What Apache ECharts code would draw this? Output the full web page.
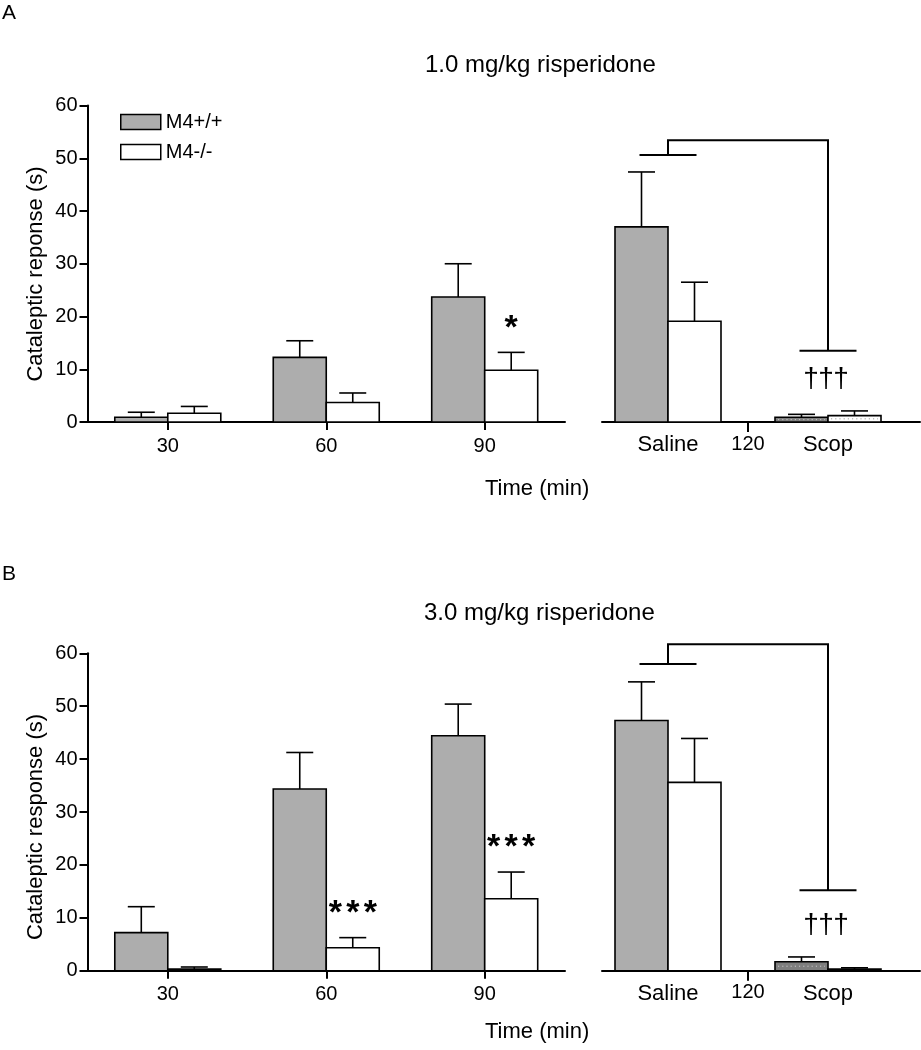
<!DOCTYPE html>
<html><head><meta charset="utf-8">
<script src="https://cdn.jsdelivr.net/npm/echarts@6/dist/echarts.min.js"></script>
<style>html,body{margin:0;padding:0;background:#fff}#c{width:921px;height:1050px}</style>
</head><body><div id="c"></div>
<script>
// ---------- data ----------
const timePoints = [30, 60, 90];
const treatments = ['Saline', 'Scop'];
const treatmentTimeLabel = '120';
const seriesNames = ['M4+/+', 'M4-/-'];
const yTicksMax = 60;
const yTitles = ['Cataleptic reponse (s)', 'Cataleptic response (s)'];

// Panel A (1.0 mg/kg risperidone)
const wtA = [0.9, 12.25, 23.7];
const wtA_sem = [0.95, 3.15, 6.3];
const koA = [1.65, 3.7, 9.8];
const koA_sem = [1.3, 1.8, 3.4];
const wtA_tx = [37.0, 0.9];
const wtA_tx_sem = [10.4, 0.55];
const koA_tx = [19.1, 1.2];
const koA_tx_sem = [7.4, 0.9];
const sigA = ['', '', '*'];
const bracketA = [50.6, 53.4, 13.5];   // saline cap, top, scop cap

// Panel B (3.0 mg/kg risperidone)
const wtB = [7.2, 34.35, 44.4];
const wtB_sem = [4.9, 6.9, 6.0];
const koB = [0.3, 4.35, 13.6];
const koB_sem = [0.4, 1.9, 5.05];
const wtB_tx = [47.3, 1.7];
const wtB_tx_sem = [7.3, 0.9];
const koB_tx = [35.6, 0.3];
const koB_tx_sem = [8.3, 0.25];
const sigB = ['', '***', '***'];
const bracketB = [58.0, 61.7, 15.2];

const daggerLabel = '†††';

// ---------- style ----------
const FONT = 'Liberation Sans, Arial, Helvetica, sans-serif';
const BAR_W = 53, CAP_W = 27, CAP_BR = 28.5;
const GRAY = '#adadad', SCOP_GRAY = '#7e7e7e';
const txPos = treatments.map((t, i) => i * 2);

function barSeries(name, xi, side, xs, vals, sems, fill, scopIdx) {
  return {
    type: 'custom', name: name, xAxisIndex: xi, yAxisIndex: xi, clip: false, z: 3,
    itemStyle: { color: fill, borderColor: '#000', borderWidth: 1.5 },
    data: xs.map((x, i) => [x, vals[i], sems[i]]),
    renderItem: function (params, api) {
      const x = api.value(0), v = api.value(1), s = api.value(2);
      const base = api.coord([x, 0]), top = api.coord([x, v]), et = api.coord([x, v + s]);
      const x0 = side < 0 ? base[0] - BAR_W : base[0];
      const cx = x0 + BAR_W / 2;
      const isScop = params.dataIndex === scopIdx;
      const f = isScop && side < 0 ? SCOP_GRAY : fill;
      const ch = [
        { type: 'line', shape: { x1: cx, y1: top[1], x2: cx, y2: et[1] }, style: { stroke: '#000', lineWidth: 1.6 } },
        { type: 'line', shape: { x1: cx - CAP_W / 2, y1: et[1], x2: cx + CAP_W / 2, y2: et[1] }, style: { stroke: '#000', lineWidth: 1.6 } },
        { type: 'rect', shape: { x: x0, y: top[1], width: BAR_W, height: base[1] - top[1] }, style: { fill: f, stroke: '#000', lineWidth: 1.6 } }
      ];
      if (isScop && base[1] - top[1] > 3.5) {
        const my = (top[1] + base[1]) / 2;
        ch.push({ type: 'line', shape: { x1: x0 + 3, y1: my, x2: x0 + BAR_W - 3, y2: my },
          style: { stroke: side < 0 ? '#c8c8c8' : '#999', lineWidth: 1, lineDash: [1.2, 3] } });
      }
      return { type: 'group', children: ch };
    }
  };
}

function sigSeries(xi, xs, vals, sems, labels) {
  return {
    type: 'custom', name: 'sig' + xi, xAxisIndex: xi, yAxisIndex: xi, clip: false, z: 5,
    data: xs.map((x, i) => [x, vals[i] + sems[i]]),
    renderItem: function (params, api) {
      const lab = labels[params.dataIndex];
      if (!lab) return null;
      const p = api.coord([api.value(0), api.value(1)]);
      const cx = p[0] + BAR_W / 2, n = lab.length, pitch = 17.5;
      const ch = [];
      for (let k = 0; k < n; k++) {
        ch.push({ type: 'text', x: cx + (k - (n - 1) / 2) * pitch, y: p[1] - 24,
          style: { text: lab[k], fill: '#000', fontSize: 34, fontWeight: 'bold', fontFamily: FONT, align: 'center', verticalAlign: 'middle' } });
      }
      return { type: 'group', children: ch };
    }
  };
}

function bracketSeries(xi, levels, wt, wtS, ko, koS) {
  return {
    type: 'custom', name: 'br' + xi, xAxisIndex: xi, yAxisIndex: xi, clip: false, z: 5,
    data: [[txPos[0], txPos[1]]],
    renderItem: function (params, api) {
      const xa = api.value(0), xb = api.value(1);
      const pL = api.coord([xa, levels[0]]), pT = api.coord([xa, levels[1]]), pR = api.coord([xb, levels[2]]);
      const pTR = api.coord([xb, levels[1]]);
      const errTop = Math.max(wt[1] + wtS[1], ko[1] + koS[1]);
      const pd = api.coord([xb, errTop]);
      const st = { stroke: '#000', lineWidth: 2, fill: null };
      const ch = [
        { type: 'line', shape: { x1: pL[0] - CAP_BR, y1: pL[1], x2: pL[0] + CAP_BR, y2: pL[1] }, style: st },
        { type: 'polyline', shape: { points: [[pL[0], pL[1]], [pT[0], pT[1]], [pTR[0], pTR[1]], [pR[0], pR[1]]] }, style: st },
        { type: 'line', shape: { x1: pR[0] - CAP_BR, y1: pR[1], x2: pR[0] + CAP_BR, y2: pR[1] }, style: st }
      ];
      const chars = Array.from(daggerLabel);
      chars.forEach((c, k) => {
        ch.push({ type: 'text', x: pd[0] - 2 + (k - (chars.length - 1) / 2) * 15, y: pd[1] - 32,
          style: { text: c, fill: '#000', fontSize: 28, fontFamily: FONT, align: 'center', verticalAlign: 'middle' } });
      });
      return { type: 'group', children: ch };
    }
  };
}

const lineSt = { color: '#000', width: 2 };
function leftX(g) {
  return { gridIndex: g, type: 'value', min: 14.8, max: 105.2,
    axisLine: { show: true, onZero: false, lineStyle: lineSt },
    axisTick: { show: true, customValues: timePoints, length: 8, lineStyle: lineSt },
    axisLabel: { customValues: timePoints, margin: 14, fontSize: 20, color: '#000', fontFamily: FONT },
    splitLine: { show: false } };
}
function rightX(g) {
  return { gridIndex: g, type: 'value', min: -0.825, max: 3.15,
    axisLine: { show: true, onZero: false, lineStyle: lineSt },
    axisTick: { show: true, customValues: [1], length: 10, lineStyle: lineSt },
    axisLabel: { customValues: [0, 1, 2], margin: 12, fontSize: 20, color: '#000', fontFamily: FONT,
      formatter: function (v) { return v === 1 ? treatmentTimeLabel : '{t|' + treatments[Math.round(v / 2)] + '}'; },
      rich: { t: { fontSize: 22, color: '#000', fontFamily: FONT } } },
    splitLine: { show: false } };
}
function leftY(g) {
  return { gridIndex: g, type: 'value', min: 0, max: yTicksMax, interval: 10,
    axisLine: { show: true, lineStyle: lineSt },
    axisTick: { show: true, length: 8, lineStyle: lineSt },
    axisLabel: { margin: 10, fontSize: 20, color: '#000', fontFamily: FONT },
    splitLine: { show: false } };
}
function rightY(g) {
  return { gridIndex: g, type: 'value', min: 0, max: yTicksMax, show: false };
}
function txt(t, x, y, size, extra) {
  return Object.assign({ type: 'text', x: x, y: y,
    style: { text: t, fontSize: size, fill: '#000', fontFamily: FONT, verticalAlign: 'middle' } }, extra || {});
}

const option = {
  backgroundColor: '#fff',
  animation: false,
  grid: [
    { left: 87.5, top: 105.5, width: 477.5, height: 316.5 },
    { left: 602, top: 105.5, width: 318, height: 316.5 },
    { left: 87.5, top: 653.3, width: 477.5, height: 317.4 },
    { left: 602, top: 653.3, width: 318, height: 317.4 }
  ],
  xAxis: [leftX(0), rightX(1), leftX(2), rightX(3)],
  yAxis: [leftY(0), rightY(1), leftY(2), rightY(3)],
  legend: {
    left: 115, top: 107, orient: 'vertical', itemWidth: 40, itemHeight: 15, itemGap: 10, itemTextGap: 6,
    icon: 'rect', selectedMode: false,
    textStyle: { fontSize: 20, color: '#000', fontFamily: FONT },
    data: [
      { name: seriesNames[0], itemStyle: { color: GRAY, borderColor: '#000', borderWidth: 1.5 } },
      { name: seriesNames[1], itemStyle: { color: '#fff', borderColor: '#000', borderWidth: 1.5 } }
    ]
  },
  graphic: [
    txt('A', 2, 13, 21),
    txt('1.0 mg/kg risperidone', 425, 65, 24),
    txt('Time (min)', 485, 489, 22),
    txt('B', 2, 574, 21),
    txt('3.0 mg/kg risperidone', 424, 613, 24),
    txt('Time (min)', 485, 1032, 22),
    { type: 'text', x: 36, y: 274, rotation: Math.PI / 2,
      style: { text: yTitles[0], fontSize: 22, fill: '#000', fontFamily: FONT, align: 'center', verticalAlign: 'middle' } },
    { type: 'text', x: 36, y: 827, rotation: Math.PI / 2,
      style: { text: yTitles[1], fontSize: 22, fill: '#000', fontFamily: FONT, align: 'center', verticalAlign: 'middle' } }
  ],
  series: [
    barSeries(seriesNames[0], 0, -1, timePoints, wtA, wtA_sem, GRAY, -1),
    barSeries(seriesNames[1], 0, 1, timePoints, koA, koA_sem, '#fff', -1),
    barSeries(seriesNames[0], 1, -1, txPos, wtA_tx, wtA_tx_sem, GRAY, 1),
    barSeries(seriesNames[1], 1, 1, txPos, koA_tx, koA_tx_sem, '#fff', 1),
    sigSeries(0, timePoints, koA, koA_sem, sigA),
    bracketSeries(1, bracketA, wtA_tx, wtA_tx_sem, koA_tx, koA_tx_sem),

    barSeries(seriesNames[0], 2, -1, timePoints, wtB, wtB_sem, GRAY, -1),
    barSeries(seriesNames[1], 2, 1, timePoints, koB, koB_sem, '#fff', -1),
    barSeries(seriesNames[0], 3, -1, txPos, wtB_tx, wtB_tx_sem, GRAY, 1),
    barSeries(seriesNames[1], 3, 1, txPos, koB_tx, koB_tx_sem, '#fff', 1),
    sigSeries(2, timePoints, koB, koB_sem, sigB),
    bracketSeries(3, bracketB, wtB_tx, wtB_tx_sem, koB_tx, koB_tx_sem)
  ]
};

const chart = echarts.init(document.getElementById('c'), null, { renderer: 'canvas' });
chart.setOption(option);
</script>
</body></html>
